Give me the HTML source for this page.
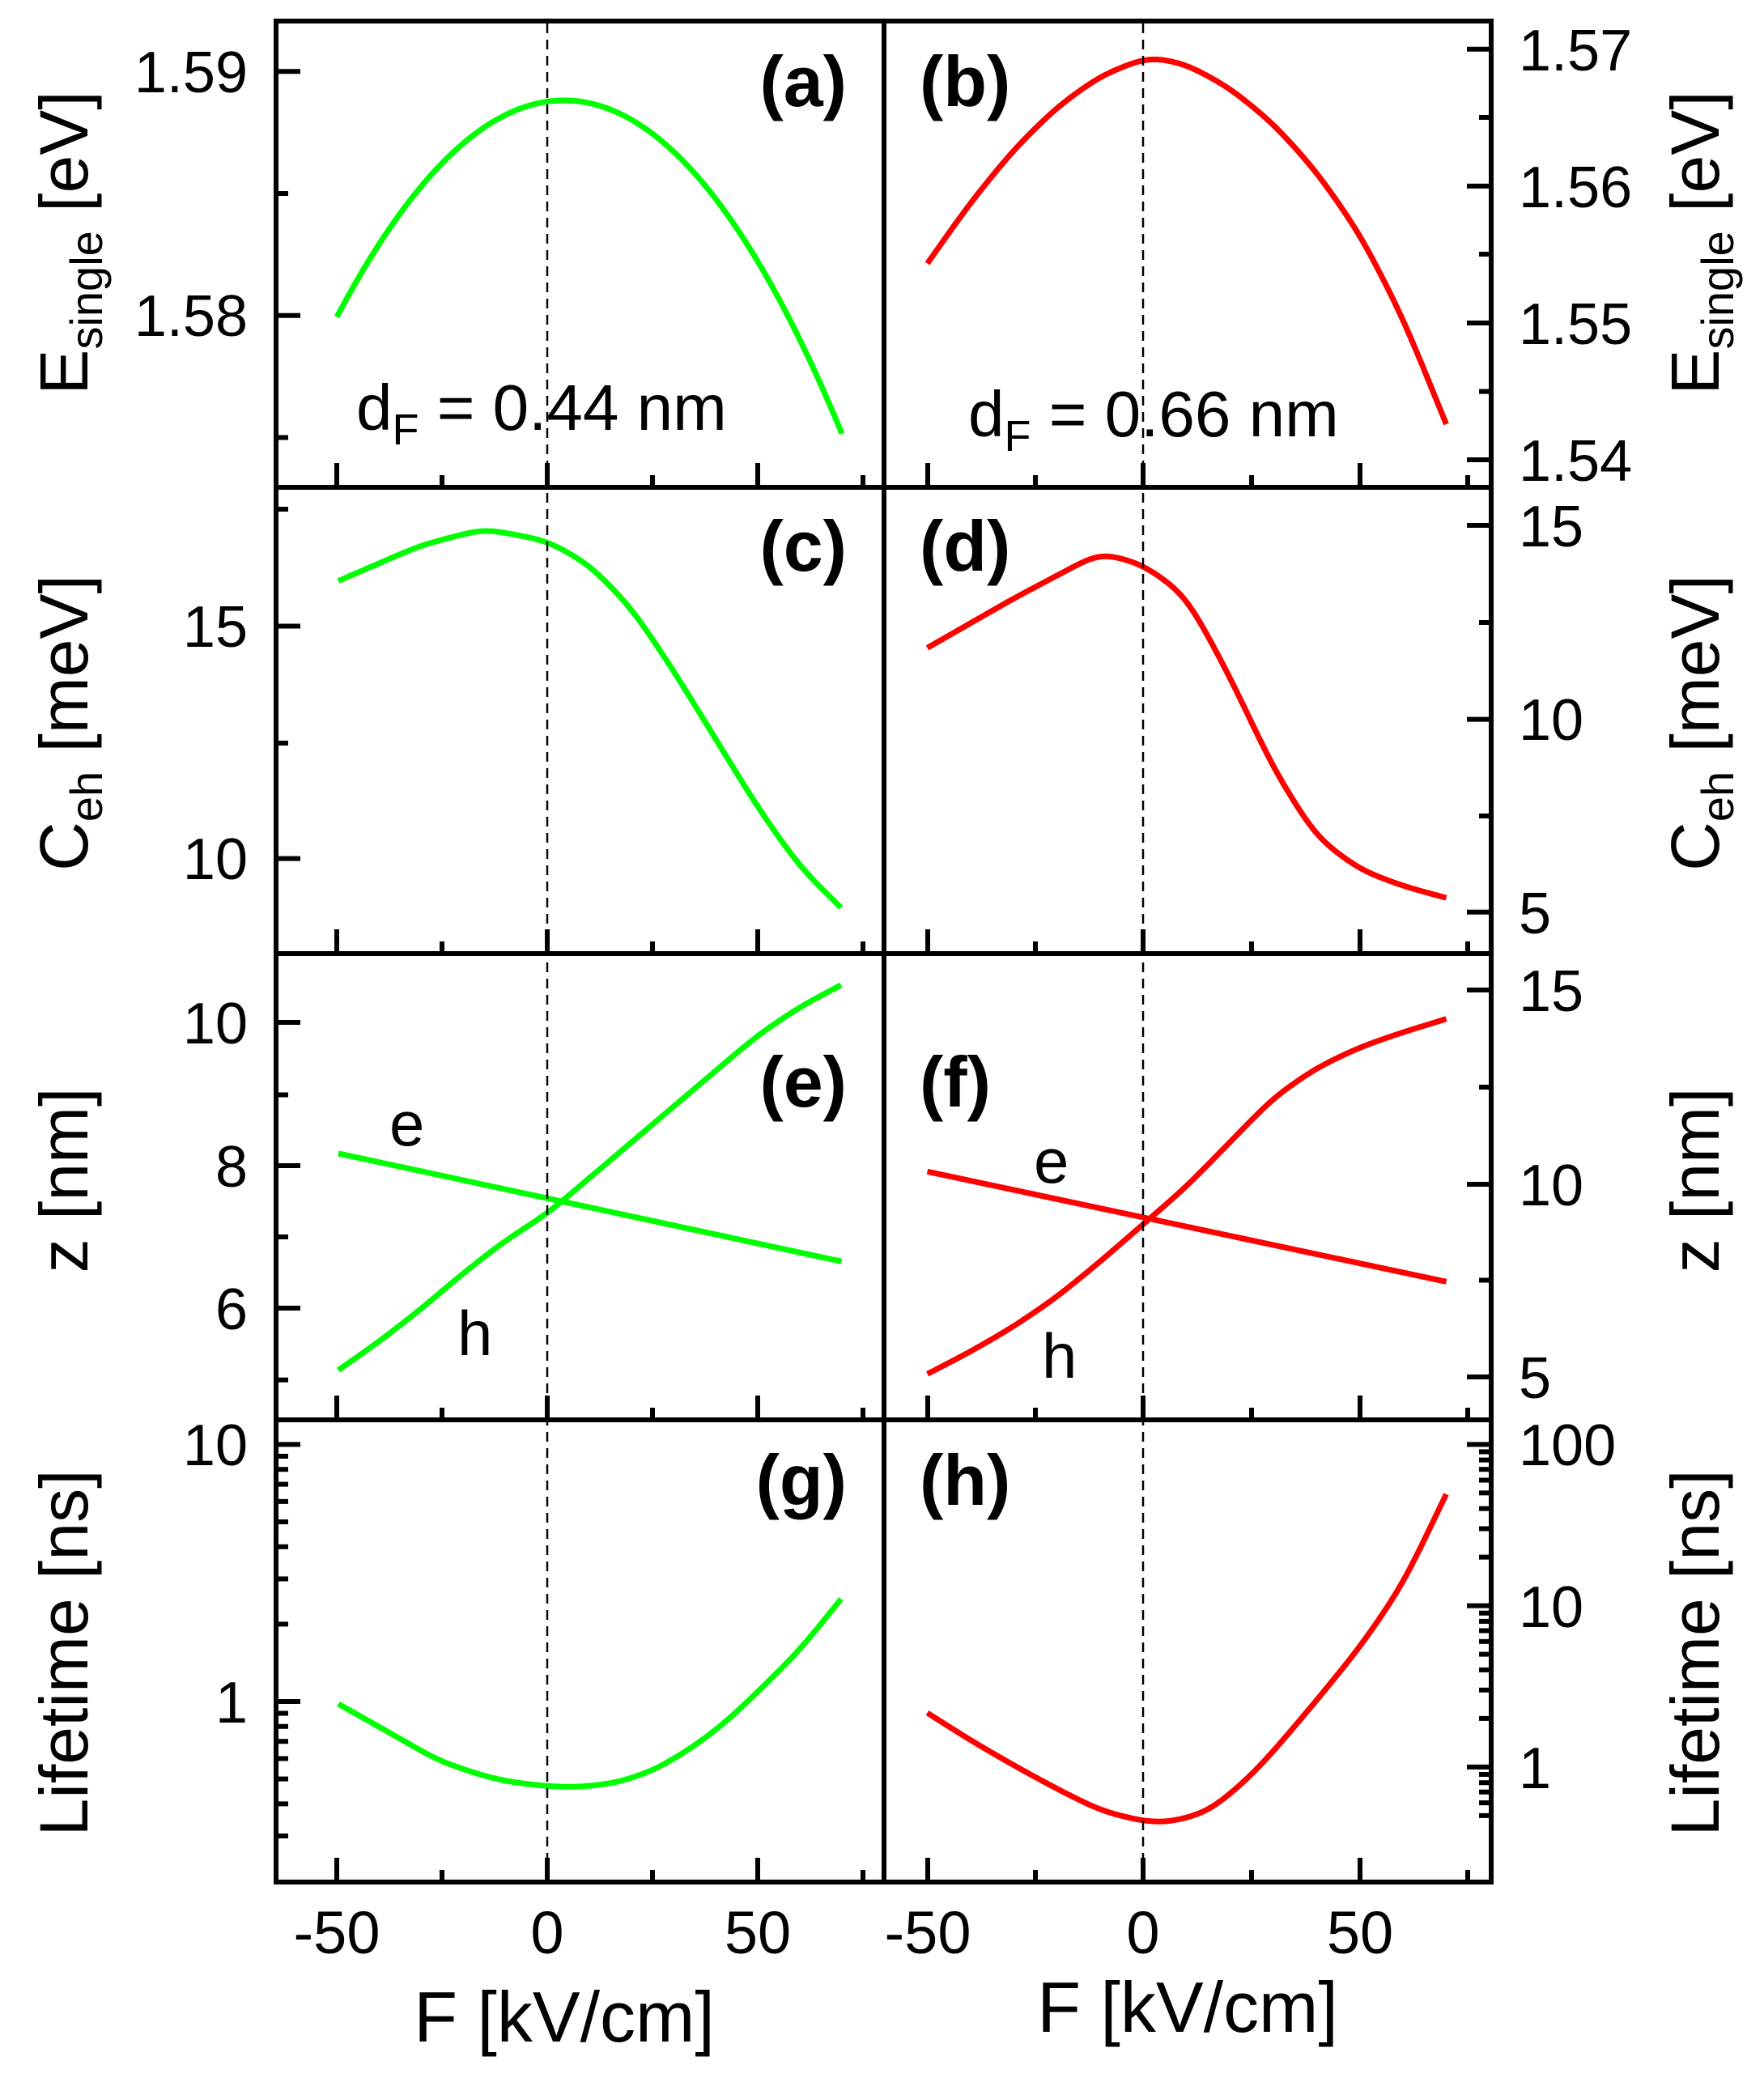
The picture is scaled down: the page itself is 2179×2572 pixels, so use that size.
<!DOCTYPE html>
<html><head><meta charset="utf-8"><style>
html,body{margin:0;padding:0;background:#fff}
svg{display:block}
text{font-family:"Liberation Sans",Arial,sans-serif;fill:#000}
</style></head><body>
<svg id="s" width="2179" height="2572" viewBox="0 0 2179 2572" xmlns="http://www.w3.org/2000/svg">
<g id="curves" fill="none" stroke-width="7" stroke-linejoin="round" stroke-linecap="butt"></g>
<g id="dash" stroke="#000" stroke-width="2.5" stroke-dasharray="12 8">
<line x1="676" y1="29" x2="676" y2="2322"/>
<line x1="1412" y1="29" x2="1412" y2="2322"/>
</g>
<g id="ticks" stroke="#000" stroke-width="6"></g>
<g fill="none" stroke="#000" stroke-width="6">
<rect x="341" y="26" width="1501" height="2299"/>
<line x1="1092" y1="26" x2="1092" y2="2325"/>
<line x1="341" y1="602" x2="1842" y2="602"/>
<line x1="341" y1="1178" x2="1842" y2="1178"/>
<line x1="341" y1="1754" x2="1842" y2="1754"/>
</g>
<g font-size="72" text-anchor="end">
<text x="306" y="114">1.59</text>
<text x="306" y="415">1.58</text>
<text x="306" y="799">15</text>
<text x="306" y="1086">10</text>
<text x="306" y="1289">10</text>
<text x="306" y="1466">8</text>
<text x="306" y="1642">6</text>
<text x="306" y="1810">10</text>
<text x="306" y="2128">1</text>
</g>
<g font-size="72" text-anchor="start">
<text x="1876" y="87">1.57</text>
<text x="1876" y="256">1.56</text>
<text x="1876" y="425">1.55</text>
<text x="1876" y="594">1.54</text>
<text x="1876" y="675">15</text>
<text x="1876" y="914">10</text>
<text x="1876" y="1153">5</text>
<text x="1876" y="1249">15</text>
<text x="1876" y="1489">10</text>
<text x="1876" y="1727">5</text>
<text x="1876" y="1810">100</text>
<text x="1876" y="2010">10</text>
<text x="1876" y="2209">1</text>
</g>
<g font-size="74" text-anchor="middle">
<text x="416" y="2413">-50</text>
<text x="676" y="2413">0</text>
<text x="936" y="2413">50</text>
<text x="1146" y="2413">-50</text>
<text x="1412" y="2413">0</text>
<text x="1680" y="2413">50</text>
</g>
<g font-size="88" text-anchor="middle">
<text x="697" y="2522">F [kV/cm]</text>
<text x="1467" y="2510">F [kV/cm]</text>
</g>
<g font-size="84" text-anchor="middle">
<text transform="translate(108,300) rotate(-90)">E<tspan font-size="56" dy="18">single</tspan><tspan dy="-18"> [eV]</tspan></text>
<text transform="translate(108,893) rotate(-90)">C<tspan font-size="56" dy="18">eh</tspan><tspan dy="-18"> [meV]</tspan></text>
<text transform="translate(108,1458) rotate(-90)">z [nm]</text>
<text transform="translate(108,2042) rotate(-90)">Lifetime [ns]</text>
<text transform="translate(2123,300) rotate(-90)">E<tspan font-size="56" dy="18">single</tspan><tspan dy="-18"> [eV]</tspan></text>
<text transform="translate(2123,893) rotate(-90)">C<tspan font-size="56" dy="18">eh</tspan><tspan dy="-18"> [meV]</tspan></text>
<text transform="translate(2123,1458) rotate(-90)">z [nm]</text>
<text transform="translate(2123,2042) rotate(-90)">Lifetime [ns]</text>
</g>
<g font-size="88" font-weight="bold">
<text x="1046" y="131" text-anchor="end">(a)</text>
<text x="1136" y="131">(b)</text>
<text x="1046" y="705" text-anchor="end">(c)</text>
<text x="1136" y="705">(d)</text>
<text x="1046" y="1367" text-anchor="end">(e)</text>
<text x="1136" y="1367">(f)</text>
<text x="1046" y="1859" text-anchor="end">(g)</text>
<text x="1136" y="1859">(h)</text>
</g>
<g font-size="80">
<text x="440" y="531">d<tspan font-size="54" dy="18">F</tspan><tspan dy="-18"> = 0.44 nm</tspan></text>
<text x="1196" y="539">d<tspan font-size="54" dy="18">F</tspan><tspan dy="-18"> = 0.66 nm</tspan></text>
</g>
<g font-size="78">
<text x="481" y="1415">e</text>
<text x="565" y="1674">h</text>
<text x="1277" y="1461">e</text>
<text x="1287" y="1702">h</text>
</g>
</svg>
<script>
(function(){
var NS="http://www.w3.org/2000/svg";
function el(p,t,a){var e=document.createElementNS(NS,t);for(var k in a)e.setAttribute(k,a[k]);p.appendChild(e);return e;}
var cg=document.getElementById('curves');
function conv(pts,top){return pts.map(function(p){return [339+p[0]/1.039, top+p[1]/2.72];});}
function smoothPath(P,sig){
 var xs=[],ys=[],x0=P[0][0],x1=P[P.length-1][0],j=0;
 for(var x=x0;x<=x1;x+=1){while(j<P.length-2&&P[j+1][0]<x)j++;
  var a=P[j],b=P[j+1],t=(x-a[0])/(b[0]-a[0]);xs.push(x);ys.push(a[1]+(b[1]-a[1])*t);}
 var n=xs.length,out=[];
 for(var i=0;i<n;i++){var w=Math.min(Math.round(sig*2.5),i,n-1-i),s=0,ws=0;
  for(var k=-w;k<=w;k++){var g=Math.exp(-k*k/(2*sig*sig));s+=g*ys[i+k];ws+=g;}
  out.push([xs[i],s/ws]);}
 var d="M"+out[0][0].toFixed(1)+","+out[0][1].toFixed(1);
 for(var i=2;i<n;i+=2)d+="L"+out[i][0].toFixed(1)+","+out[i][1].toFixed(1);
 d+="L"+out[n-1][0].toFixed(1)+","+out[n-1][1].toFixed(1);
 return d;}
function curve(pts,top,col){el(cg,'path',{d:smoothPath(conv(pts,top),16),stroke:col});}
function fcurve(f,F0,F1,xmap,col){var d="";for(var F=F0;F<=F1+1e-9;F+=0.5){d+=(d?"L":"M")+xmap(F).toFixed(1)+","+f(F).toFixed(1);}el(cg,'path',{d:d,stroke:col});}
var G="#00ff00",R="#ff0000";
var xL=function(F){return 676+F*5.2;}, xR=function(F){return 1412+F*5.34;};
fcurve(function(F){var d=F-4;return 24+(272+0.253*d*d+6.22e-5*d*d*d)/2.72;},-50,70,xL,G);
curve([[838,820],[892,620],[948,440],[1004,295],[1060,190],[1115,132],[1126,127],[1170,150],[1226,230],[1282,350],[1337,510],[1393,720],[1448,1000],[1504,1360]],24,R);
curve([[82,320],[188,200],[269,145],[350,185],[404,265],[458,410],[512,620],[566,850],[620,1080],[674,1280],[728,1420]],600,G);
curve([[838,545],[948,380],[1060,225],[1115,265],[1170,370],[1226,640],[1282,950],[1337,1180],[1393,1290],[1448,1345],[1504,1385]],600,R);
el(cg,'path',{d:"M"+(339+82/1.039)+","+(1176+677/2.72)+"L"+(339+728/1.039)+","+(1176+1040/2.72),stroke:G});
curve([[82,1405],[134,1310],[188,1200],[242,1080],[296,970],[350,880],[404,760],[458,640],[512,520],[566,400],[620,280],[674,185],[728,110]],1176,G);
el(cg,'path',{d:"M"+(339+838/1.039)+","+(1176+738/2.72)+"L"+(339+1504/1.039)+","+(1176+1108/2.72),stroke:R});
curve([[838,1418],[892,1345],[948,1260],[1004,1160],[1060,1040],[1115,915],[1170,790],[1226,640],[1282,490],[1337,390],[1393,320],[1448,270],[1504,225]],1176,R);
curve([[82,960],[150,1060],[210,1150],[260,1195],[296,1220],[350,1237],[390,1240],[440,1225],[490,1180],[540,1100],[580,1020],[620,920],[674,780],[728,605]],1752,G);
curve([[838,990],[892,1080],[948,1165],[1004,1245],[1060,1318],[1115,1355],[1150,1358],[1200,1320],[1250,1210],[1282,1120],[1337,950],[1393,770],[1448,560],[1504,255]],1752,R);
var tg=document.getElementById('ticks');
function lt(y,L){el(tg,'line',{x1:341,y1:y,x2:341+L,y2:y});}
function rt(y,L){el(tg,'line',{x1:1842-L,y1:y,x2:1842,y2:y});}
function bt(x,rb,L){el(tg,'line',{x1:x,y1:rb,x2:x,y2:rb-L});}
[88.3,389.8].forEach(function(y){lt(y,30)});[239,540.5].forEach(function(y){lt(y,15)});
[60.8,229.9,399,568].forEach(function(y){rt(y,30)});[145,314,483.6].forEach(function(y){rt(y,15)});
[773.5,1060.6].forEach(function(y){lt(y,30)});[629,918].forEach(function(y){lt(y,15)});
[649,888.6,1126.8].forEach(function(y){rt(y,30)});[769,1008].forEach(function(y){rt(y,15)});
[1263,1440,1616].forEach(function(y){lt(y,30)});[1352.5,1528,1704.7].forEach(function(y){lt(y,15)});
[1223,1463,1701].forEach(function(y){rt(y,30)});[1343,1581.5].forEach(function(y){rt(y,15)});
var g1=2102,gd=317.6;
lt(1784.4,30);lt(g1,30);
for(var v=2;v<=9;v++)lt(g1-Math.log10(v)*gd,15);
for(var v=3;v<=9;v++)lt(g1-Math.log10(v/10)*gd,15);
var h1=2182.9,hd=199.3;
rt(1784.4,30);rt(1983.6,30);rt(h1,30);
for(var v=2;v<=9;v++){rt(h1-Math.log10(v)*hd,15);rt(h1-Math.log10(v*10)*hd,15);}
for(var v=5;v<=9;v++)rt(h1-Math.log10(v/10)*hd,15);
[602,1178,1754,2325].forEach(function(rb){
 [416,676,936].forEach(function(x){bt(x,rb,30)});[546,806,1066].forEach(function(x){bt(x,rb,15)});
 [1146,1412,1680].forEach(function(x){bt(x,rb,30)});[1279,1546,1813].forEach(function(x){bt(x,rb,15)});
});
})();
</script>
</body></html>
